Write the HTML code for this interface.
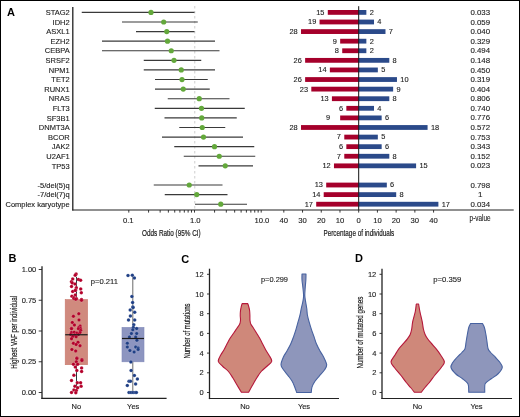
<!DOCTYPE html>
<html><head><meta charset="utf-8"><style>
html,body{margin:0;padding:0;background:#fff;}
svg{display:block;will-change:transform;}
text{font-family:"Liberation Sans", sans-serif;}
.c{stroke:#222;stroke-width:0.2;}
.n{stroke:#222;stroke-width:0.12;}
</style></head><body>
<svg width="520" height="417" viewBox="0 0 520 417">
<rect x="0" y="0" width="520" height="417" fill="#fff"/>
<text x="7" y="16.4" font-size="11" font-weight="bold" fill="#000">A</text>
<text class="n" x="69.7" y="15.10" font-size="7.5" text-anchor="end" fill="#222">STAG2</text>
<text class="n" x="69.7" y="24.69" font-size="7.5" text-anchor="end" fill="#222">IDH2</text>
<text class="n" x="69.7" y="34.28" font-size="7.5" text-anchor="end" fill="#222">ASXL1</text>
<text class="n" x="69.7" y="43.87" font-size="7.5" text-anchor="end" fill="#222">EZH2</text>
<text class="n" x="69.7" y="53.46" font-size="7.5" text-anchor="end" fill="#222">CEBPA</text>
<text class="n" x="69.7" y="63.05" font-size="7.5" text-anchor="end" fill="#222">SRSF2</text>
<text class="n" x="69.7" y="72.64" font-size="7.5" text-anchor="end" fill="#222">NPM1</text>
<text class="n" x="69.7" y="82.23" font-size="7.5" text-anchor="end" fill="#222">TET2</text>
<text class="n" x="69.7" y="91.82" font-size="7.5" text-anchor="end" fill="#222">RUNX1</text>
<text class="n" x="69.7" y="101.41" font-size="7.5" text-anchor="end" fill="#222">NRAS</text>
<text class="n" x="69.7" y="111.00" font-size="7.5" text-anchor="end" fill="#222">FLT3</text>
<text class="n" x="69.7" y="120.59" font-size="7.5" text-anchor="end" fill="#222">SF3B1</text>
<text class="n" x="69.7" y="130.18" font-size="7.5" text-anchor="end" fill="#222">DNMT3A</text>
<text class="n" x="69.7" y="139.77" font-size="7.5" text-anchor="end" fill="#222">BCOR</text>
<text class="n" x="69.7" y="149.36" font-size="7.5" text-anchor="end" fill="#222">JAK2</text>
<text class="n" x="69.7" y="158.95" font-size="7.5" text-anchor="end" fill="#222">U2AF1</text>
<text class="n" x="69.7" y="168.54" font-size="7.5" text-anchor="end" fill="#222">TP53</text>
<text class="n" x="69.7" y="187.72" font-size="7.5" text-anchor="end" fill="#222">-5/del(5)q</text>
<text class="n" x="69.7" y="197.31" font-size="7.5" text-anchor="end" fill="#222">-7/del(7)q</text>
<text class="n" x="69.7" y="206.90" font-size="7.5" text-anchor="end" fill="#222">Complex karyotype</text>
<line x1="194.75" y1="6" x2="194.75" y2="209.5" stroke="#c8c8c8" stroke-width="0.9" stroke-dasharray="2.5 2.5"/>
<line x1="81.75" y1="12.40" x2="194.5" y2="12.40" stroke="#3a3a3a" stroke-width="1.15"/>
<line x1="122" y1="21.99" x2="197.75" y2="21.99" stroke="#3a3a3a" stroke-width="1.15"/>
<line x1="136" y1="31.58" x2="194.5" y2="31.58" stroke="#3a3a3a" stroke-width="1.15"/>
<line x1="102" y1="41.17" x2="215" y2="41.17" stroke="#3a3a3a" stroke-width="1.15"/>
<line x1="102" y1="50.76" x2="219.5" y2="50.76" stroke="#3a3a3a" stroke-width="1.15"/>
<line x1="143.75" y1="60.35" x2="201.25" y2="60.35" stroke="#3a3a3a" stroke-width="1.15"/>
<line x1="143.75" y1="69.94" x2="215" y2="69.94" stroke="#3a3a3a" stroke-width="1.15"/>
<line x1="155" y1="79.53" x2="207.75" y2="79.53" stroke="#3a3a3a" stroke-width="1.15"/>
<line x1="155" y1="89.12" x2="209.75" y2="89.12" stroke="#3a3a3a" stroke-width="1.15"/>
<line x1="167.75" y1="98.71" x2="229.5" y2="98.71" stroke="#3a3a3a" stroke-width="1.15"/>
<line x1="154.75" y1="108.30" x2="244.75" y2="108.30" stroke="#3a3a3a" stroke-width="1.15"/>
<line x1="164.5" y1="117.89" x2="236.75" y2="117.89" stroke="#3a3a3a" stroke-width="1.15"/>
<line x1="179.25" y1="127.48" x2="225.25" y2="127.48" stroke="#3a3a3a" stroke-width="1.15"/>
<line x1="162" y1="137.07" x2="243" y2="137.07" stroke="#3a3a3a" stroke-width="1.15"/>
<line x1="174.25" y1="146.66" x2="254.25" y2="146.66" stroke="#3a3a3a" stroke-width="1.15"/>
<line x1="183.75" y1="156.25" x2="255.25" y2="156.25" stroke="#3a3a3a" stroke-width="1.15"/>
<line x1="198.5" y1="165.84" x2="253" y2="165.84" stroke="#3a3a3a" stroke-width="1.15"/>
<line x1="153.75" y1="185.02" x2="222.5" y2="185.02" stroke="#3a3a3a" stroke-width="1.15"/>
<line x1="164.75" y1="194.61" x2="227.5" y2="194.61" stroke="#3a3a3a" stroke-width="1.15"/>
<line x1="195" y1="204.20" x2="247" y2="204.20" stroke="#3a3a3a" stroke-width="1.15"/>
<circle cx="151" cy="12.40" r="2.6" fill="#63a83b"/>
<circle cx="163.7" cy="21.99" r="2.6" fill="#63a83b"/>
<circle cx="166.75" cy="31.58" r="2.6" fill="#63a83b"/>
<circle cx="167.5" cy="41.17" r="2.6" fill="#63a83b"/>
<circle cx="171.25" cy="50.76" r="2.6" fill="#63a83b"/>
<circle cx="174" cy="60.35" r="2.6" fill="#63a83b"/>
<circle cx="181.25" cy="69.94" r="2.6" fill="#63a83b"/>
<circle cx="182" cy="79.53" r="2.6" fill="#63a83b"/>
<circle cx="183.25" cy="89.12" r="2.6" fill="#63a83b"/>
<circle cx="199.25" cy="98.71" r="2.6" fill="#63a83b"/>
<circle cx="201.5" cy="108.30" r="2.6" fill="#63a83b"/>
<circle cx="201.75" cy="117.89" r="2.6" fill="#63a83b"/>
<circle cx="202.25" cy="127.48" r="2.6" fill="#63a83b"/>
<circle cx="203.5" cy="137.07" r="2.6" fill="#63a83b"/>
<circle cx="214.5" cy="146.66" r="2.6" fill="#63a83b"/>
<circle cx="219.25" cy="156.25" r="2.6" fill="#63a83b"/>
<circle cx="225.25" cy="165.84" r="2.6" fill="#63a83b"/>
<circle cx="189.25" cy="185.02" r="2.6" fill="#63a83b"/>
<circle cx="196.75" cy="194.61" r="2.6" fill="#63a83b"/>
<circle cx="220.75" cy="204.20" r="2.6" fill="#63a83b"/>
<rect x="327.79" y="10.00" width="30.91" height="4.8" fill="#a5002b"/>
<rect x="358.70" y="10.00" width="7.65" height="4.8" fill="#2b4a8a"/>
<text class="n" x="324.49" y="14.80" font-size="7.4" text-anchor="end" fill="#222">15</text>
<text class="n" x="369.65" y="14.80" font-size="7.4" fill="#222">2</text>
<text class="n" x="480.3" y="15.00" font-size="8" text-anchor="middle" fill="#222" textLength="19.7" lengthAdjust="spacingAndGlyphs">0.033</text>
<rect x="319.55" y="19.59" width="39.15" height="4.8" fill="#a5002b"/>
<rect x="358.70" y="19.59" width="15.31" height="4.8" fill="#2b4a8a"/>
<text class="n" x="316.25" y="24.39" font-size="7.4" text-anchor="end" fill="#222">19</text>
<text class="n" x="377.31" y="24.39" font-size="7.4" fill="#222">4</text>
<text class="n" x="480.3" y="24.59" font-size="8" text-anchor="middle" fill="#222" textLength="19.7" lengthAdjust="spacingAndGlyphs">0.059</text>
<rect x="301.01" y="29.18" width="57.69" height="4.8" fill="#a5002b"/>
<rect x="358.70" y="29.18" width="26.79" height="4.8" fill="#2b4a8a"/>
<text class="n" x="297.71" y="33.98" font-size="7.4" text-anchor="end" fill="#222">28</text>
<text class="n" x="388.79" y="33.98" font-size="7.4" fill="#222">7</text>
<text class="n" x="480.3" y="34.18" font-size="8" text-anchor="middle" fill="#222" textLength="19.7" lengthAdjust="spacingAndGlyphs">0.040</text>
<rect x="340.16" y="38.77" width="18.54" height="4.8" fill="#a5002b"/>
<rect x="358.70" y="38.77" width="7.65" height="4.8" fill="#2b4a8a"/>
<text class="n" x="336.86" y="43.57" font-size="7.4" text-anchor="end" fill="#222">9</text>
<text class="n" x="369.65" y="43.57" font-size="7.4" fill="#222">2</text>
<text class="n" x="480.3" y="43.77" font-size="8" text-anchor="middle" fill="#222" textLength="19.7" lengthAdjust="spacingAndGlyphs">0.329</text>
<rect x="342.22" y="48.36" width="16.48" height="4.8" fill="#a5002b"/>
<rect x="358.70" y="48.36" width="7.65" height="4.8" fill="#2b4a8a"/>
<text class="n" x="338.92" y="53.16" font-size="7.4" text-anchor="end" fill="#222">8</text>
<text class="n" x="369.65" y="53.16" font-size="7.4" fill="#222">2</text>
<text class="n" x="480.3" y="53.36" font-size="8" text-anchor="middle" fill="#222" textLength="19.7" lengthAdjust="spacingAndGlyphs">0.494</text>
<rect x="305.13" y="57.95" width="53.57" height="4.8" fill="#a5002b"/>
<rect x="358.70" y="57.95" width="30.61" height="4.8" fill="#2b4a8a"/>
<text class="n" x="301.83" y="62.75" font-size="7.4" text-anchor="end" fill="#222">26</text>
<text class="n" x="392.61" y="62.75" font-size="7.4" fill="#222">8</text>
<text class="n" x="480.3" y="62.95" font-size="8" text-anchor="middle" fill="#222" textLength="19.7" lengthAdjust="spacingAndGlyphs">0.148</text>
<rect x="329.85" y="67.54" width="28.85" height="4.8" fill="#a5002b"/>
<rect x="358.70" y="67.54" width="19.13" height="4.8" fill="#2b4a8a"/>
<text class="n" x="326.55" y="72.34" font-size="7.4" text-anchor="end" fill="#222">14</text>
<text class="n" x="381.13" y="72.34" font-size="7.4" fill="#222">5</text>
<text class="n" x="480.3" y="72.54" font-size="8" text-anchor="middle" fill="#222" textLength="19.7" lengthAdjust="spacingAndGlyphs">0.450</text>
<rect x="305.13" y="77.13" width="53.57" height="4.8" fill="#a5002b"/>
<rect x="358.70" y="77.13" width="38.27" height="4.8" fill="#2b4a8a"/>
<text class="n" x="301.83" y="81.93" font-size="7.4" text-anchor="end" fill="#222">26</text>
<text class="n" x="400.27" y="81.93" font-size="7.4" fill="#222">10</text>
<text class="n" x="480.3" y="82.13" font-size="8" text-anchor="middle" fill="#222" textLength="19.7" lengthAdjust="spacingAndGlyphs">0.319</text>
<rect x="311.31" y="86.72" width="47.39" height="4.8" fill="#a5002b"/>
<rect x="358.70" y="86.72" width="34.44" height="4.8" fill="#2b4a8a"/>
<text class="n" x="308.01" y="91.52" font-size="7.4" text-anchor="end" fill="#222">23</text>
<text class="n" x="396.44" y="91.52" font-size="7.4" fill="#222">9</text>
<text class="n" x="480.3" y="91.72" font-size="8" text-anchor="middle" fill="#222" textLength="19.7" lengthAdjust="spacingAndGlyphs">0.404</text>
<rect x="331.91" y="96.31" width="26.79" height="4.8" fill="#a5002b"/>
<rect x="358.70" y="96.31" width="30.61" height="4.8" fill="#2b4a8a"/>
<text class="n" x="328.61" y="101.11" font-size="7.4" text-anchor="end" fill="#222">13</text>
<text class="n" x="392.61" y="101.11" font-size="7.4" fill="#222">8</text>
<text class="n" x="480.3" y="101.31" font-size="8" text-anchor="middle" fill="#222" textLength="19.7" lengthAdjust="spacingAndGlyphs">0.806</text>
<rect x="346.34" y="105.90" width="12.36" height="4.8" fill="#a5002b"/>
<rect x="358.70" y="105.90" width="15.31" height="4.8" fill="#2b4a8a"/>
<text class="n" x="343.04" y="110.70" font-size="7.4" text-anchor="end" fill="#222">6</text>
<text class="n" x="377.31" y="110.70" font-size="7.4" fill="#222">4</text>
<text class="n" x="480.3" y="110.90" font-size="8" text-anchor="middle" fill="#222" textLength="19.7" lengthAdjust="spacingAndGlyphs">0.740</text>
<rect x="340.16" y="115.49" width="18.54" height="4.8" fill="#a5002b"/>
<rect x="358.70" y="115.49" width="22.96" height="4.8" fill="#2b4a8a"/>
<text class="n" x="330.20" y="120.29" font-size="7.4" text-anchor="end" fill="#222">9</text>
<text class="n" x="384.96" y="120.29" font-size="7.4" fill="#222">6</text>
<text class="n" x="480.3" y="120.49" font-size="8" text-anchor="middle" fill="#222" textLength="19.7" lengthAdjust="spacingAndGlyphs">0.776</text>
<rect x="301.01" y="125.08" width="57.69" height="4.8" fill="#a5002b"/>
<rect x="358.70" y="125.08" width="68.88" height="4.8" fill="#2b4a8a"/>
<text class="n" x="297.71" y="129.88" font-size="7.4" text-anchor="end" fill="#222">28</text>
<text class="n" x="430.88" y="129.88" font-size="7.4" fill="#222">18</text>
<text class="n" x="480.3" y="130.08" font-size="8" text-anchor="middle" fill="#222" textLength="19.7" lengthAdjust="spacingAndGlyphs">0.572</text>
<rect x="344.28" y="134.67" width="14.42" height="4.8" fill="#a5002b"/>
<rect x="358.70" y="134.67" width="19.13" height="4.8" fill="#2b4a8a"/>
<text class="n" x="340.98" y="139.47" font-size="7.4" text-anchor="end" fill="#222">7</text>
<text class="n" x="381.13" y="139.47" font-size="7.4" fill="#222">5</text>
<text class="n" x="480.3" y="139.67" font-size="8" text-anchor="middle" fill="#222" textLength="19.7" lengthAdjust="spacingAndGlyphs">0.753</text>
<rect x="346.34" y="144.26" width="12.36" height="4.8" fill="#a5002b"/>
<rect x="358.70" y="144.26" width="22.96" height="4.8" fill="#2b4a8a"/>
<text class="n" x="343.04" y="149.06" font-size="7.4" text-anchor="end" fill="#222">6</text>
<text class="n" x="384.96" y="149.06" font-size="7.4" fill="#222">6</text>
<text class="n" x="480.3" y="149.26" font-size="8" text-anchor="middle" fill="#222" textLength="19.7" lengthAdjust="spacingAndGlyphs">0.343</text>
<rect x="344.28" y="153.85" width="14.42" height="4.8" fill="#a5002b"/>
<rect x="358.70" y="153.85" width="30.61" height="4.8" fill="#2b4a8a"/>
<text class="n" x="340.98" y="158.65" font-size="7.4" text-anchor="end" fill="#222">7</text>
<text class="n" x="392.61" y="158.65" font-size="7.4" fill="#222">8</text>
<text class="n" x="480.3" y="158.85" font-size="8" text-anchor="middle" fill="#222" textLength="19.7" lengthAdjust="spacingAndGlyphs">0.152</text>
<rect x="333.97" y="163.44" width="24.73" height="4.8" fill="#a5002b"/>
<rect x="358.70" y="163.44" width="57.40" height="4.8" fill="#2b4a8a"/>
<text class="n" x="330.67" y="168.24" font-size="7.4" text-anchor="end" fill="#222">12</text>
<text class="n" x="419.40" y="168.24" font-size="7.4" fill="#222">15</text>
<text class="n" x="480.3" y="168.44" font-size="8" text-anchor="middle" fill="#222" textLength="19.7" lengthAdjust="spacingAndGlyphs">0.023</text>
<rect x="326.20" y="182.62" width="32.50" height="4.8" fill="#a5002b"/>
<rect x="358.70" y="182.62" width="28.12" height="4.8" fill="#2b4a8a"/>
<text class="n" x="322.90" y="187.42" font-size="7.4" text-anchor="end" fill="#222">13</text>
<text class="n" x="390.12" y="187.42" font-size="7.4" fill="#222">6</text>
<text class="n" x="480.3" y="187.62" font-size="8" text-anchor="middle" fill="#222" textLength="19.7" lengthAdjust="spacingAndGlyphs">0.798</text>
<rect x="323.70" y="192.21" width="35.00" height="4.8" fill="#a5002b"/>
<rect x="358.70" y="192.21" width="37.50" height="4.8" fill="#2b4a8a"/>
<text class="n" x="320.40" y="197.01" font-size="7.4" text-anchor="end" fill="#222">14</text>
<text class="n" x="399.50" y="197.01" font-size="7.4" fill="#222">8</text>
<text class="n" x="480.3" y="197.21" font-size="8" text-anchor="middle" fill="#222">1</text>
<rect x="316.20" y="201.80" width="42.50" height="4.8" fill="#a5002b"/>
<rect x="358.70" y="201.80" width="79.69" height="4.8" fill="#2b4a8a"/>
<text class="n" x="312.90" y="206.60" font-size="7.4" text-anchor="end" fill="#222">17</text>
<text class="n" x="441.69" y="206.60" font-size="7.4" fill="#222">17</text>
<text class="n" x="480.3" y="206.80" font-size="8" text-anchor="middle" fill="#222" textLength="19.7" lengthAdjust="spacingAndGlyphs">0.034</text>
<line x1="358.7" y1="6.2" x2="358.7" y2="210" stroke="#111" stroke-width="1"/>
<line x1="72.8" y1="7" x2="72.8" y2="210.6" stroke="#222" stroke-width="1.3"/>
<line x1="72.2" y1="210" x2="513.7" y2="210" stroke="#222" stroke-width="1.2"/>
<line x1="128.80" y1="210" x2="128.80" y2="212.6" stroke="#222" stroke-width="0.9"/>
<line x1="148.58" y1="210" x2="148.58" y2="212.6" stroke="#222" stroke-width="0.9"/>
<line x1="160.15" y1="210" x2="160.15" y2="212.6" stroke="#222" stroke-width="0.9"/>
<line x1="168.36" y1="210" x2="168.36" y2="212.6" stroke="#222" stroke-width="0.9"/>
<line x1="174.72" y1="210" x2="174.72" y2="212.6" stroke="#222" stroke-width="0.9"/>
<line x1="179.92" y1="210" x2="179.92" y2="212.6" stroke="#222" stroke-width="0.9"/>
<line x1="184.32" y1="210" x2="184.32" y2="212.6" stroke="#222" stroke-width="0.9"/>
<line x1="188.13" y1="210" x2="188.13" y2="212.6" stroke="#222" stroke-width="0.9"/>
<line x1="191.49" y1="210" x2="191.49" y2="212.6" stroke="#222" stroke-width="0.9"/>
<line x1="194.50" y1="210" x2="194.50" y2="212.6" stroke="#222" stroke-width="0.9"/>
<line x1="214.58" y1="210" x2="214.58" y2="212.6" stroke="#222" stroke-width="0.9"/>
<line x1="226.32" y1="210" x2="226.32" y2="212.6" stroke="#222" stroke-width="0.9"/>
<line x1="234.66" y1="210" x2="234.66" y2="212.6" stroke="#222" stroke-width="0.9"/>
<line x1="241.12" y1="210" x2="241.12" y2="212.6" stroke="#222" stroke-width="0.9"/>
<line x1="246.40" y1="210" x2="246.40" y2="212.6" stroke="#222" stroke-width="0.9"/>
<line x1="250.87" y1="210" x2="250.87" y2="212.6" stroke="#222" stroke-width="0.9"/>
<line x1="254.74" y1="210" x2="254.74" y2="212.6" stroke="#222" stroke-width="0.9"/>
<line x1="258.15" y1="210" x2="258.15" y2="212.6" stroke="#222" stroke-width="0.9"/>
<line x1="261.20" y1="210" x2="261.20" y2="212.6" stroke="#222" stroke-width="0.9"/>
<text class="n" x="128.3" y="222.5" font-size="7.7" text-anchor="middle" fill="#222">0.1</text>
<text class="n" x="195.3" y="222.5" font-size="7.7" text-anchor="middle" fill="#222">1.0</text>
<text class="n" x="261.9" y="222.5" font-size="7.7" text-anchor="middle" fill="#222">10.0</text>
<line x1="283.82" y1="210" x2="283.82" y2="212.6" stroke="#222" stroke-width="0.9"/>
<text class="n" x="283.82" y="222.5" font-size="7.7" text-anchor="middle" fill="#222">40</text>
<line x1="302.54" y1="210" x2="302.54" y2="212.6" stroke="#222" stroke-width="0.9"/>
<text class="n" x="302.54" y="222.5" font-size="7.7" text-anchor="middle" fill="#222">30</text>
<line x1="321.26" y1="210" x2="321.26" y2="212.6" stroke="#222" stroke-width="0.9"/>
<text class="n" x="321.26" y="222.5" font-size="7.7" text-anchor="middle" fill="#222">20</text>
<line x1="339.98" y1="210" x2="339.98" y2="212.6" stroke="#222" stroke-width="0.9"/>
<text class="n" x="339.98" y="222.5" font-size="7.7" text-anchor="middle" fill="#222">10</text>
<line x1="358.70" y1="210" x2="358.70" y2="212.6" stroke="#222" stroke-width="0.9"/>
<text class="n" x="358.70" y="222.5" font-size="7.7" text-anchor="middle" fill="#222">0</text>
<line x1="377.42" y1="210" x2="377.42" y2="212.6" stroke="#222" stroke-width="0.9"/>
<text class="n" x="377.42" y="222.5" font-size="7.7" text-anchor="middle" fill="#222">10</text>
<line x1="396.14" y1="210" x2="396.14" y2="212.6" stroke="#222" stroke-width="0.9"/>
<text class="n" x="396.14" y="222.5" font-size="7.7" text-anchor="middle" fill="#222">20</text>
<line x1="414.86" y1="210" x2="414.86" y2="212.6" stroke="#222" stroke-width="0.9"/>
<text class="n" x="414.86" y="222.5" font-size="7.7" text-anchor="middle" fill="#222">30</text>
<line x1="433.58" y1="210" x2="433.58" y2="212.6" stroke="#222" stroke-width="0.9"/>
<text class="n" x="433.58" y="222.5" font-size="7.7" text-anchor="middle" fill="#222">40</text>
<text class="c" x="142" y="235.5" font-size="8.4" textLength="58.7" lengthAdjust="spacingAndGlyphs" fill="#222">Odds Ratio (95% CI)</text>
<text class="c" x="323.5" y="235.5" font-size="8.4" textLength="70.8" lengthAdjust="spacingAndGlyphs" fill="#222">Percentage of individuals</text>
<text class="n" x="469.6" y="221.3" font-size="8.4" textLength="21" lengthAdjust="spacingAndGlyphs" fill="#222">p-value</text>
<text x="8.4" y="262" font-size="11" font-weight="bold" fill="#000">B</text>
<line x1="42" y1="266.2" x2="42" y2="399.0" stroke="#222" stroke-width="1.3"/>
<line x1="38.7" y1="392.50" x2="42" y2="392.50" stroke="#222" stroke-width="0.9"/>
<text class="n" x="36.3" y="395.15" font-size="7.5" text-anchor="end" fill="#222">0.00</text>
<line x1="38.7" y1="361.75" x2="42" y2="361.75" stroke="#222" stroke-width="0.9"/>
<text class="n" x="36.3" y="364.40" font-size="7.5" text-anchor="end" fill="#222">0.25</text>
<line x1="38.7" y1="331.00" x2="42" y2="331.00" stroke="#222" stroke-width="0.9"/>
<text class="n" x="36.3" y="333.65" font-size="7.5" text-anchor="end" fill="#222">0.50</text>
<line x1="38.7" y1="300.25" x2="42" y2="300.25" stroke="#222" stroke-width="0.9"/>
<text class="n" x="36.3" y="302.90" font-size="7.5" text-anchor="end" fill="#222">0.75</text>
<line x1="38.7" y1="269.50" x2="42" y2="269.50" stroke="#222" stroke-width="0.9"/>
<text class="n" x="36.3" y="272.15" font-size="7.5" text-anchor="end" fill="#222">1.00</text>
<line x1="41.4" y1="398.4" x2="166.6" y2="398.4" stroke="#222" stroke-width="1.2"/>
<text class="c" x="0" y="0" transform="translate(17.4,332.3) rotate(-90)" font-size="9.2" text-anchor="middle" textLength="73" lengthAdjust="spacingAndGlyphs" fill="#222">Highest VAF per individual</text>
<line x1="76.5" y1="277" x2="76.5" y2="392.5" stroke="#2a3a3a" stroke-width="1"/>
<line x1="132.8" y1="276" x2="132.8" y2="392.3" stroke="#6a6a6a" stroke-width="1"/>
<rect x="65.2" y="299.6" width="22.4" height="65.1" fill="#d08a7e" stroke="#c9786c" stroke-width="0.6"/>
<rect x="122" y="327.4" width="22" height="34.4" fill="#8d95c0" stroke="#8089b8" stroke-width="0.6"/>
<circle cx="76.1" cy="274.1" r="1.75" fill="#b3002a" stroke="#fff" stroke-opacity="0.3" stroke-width="0.5"/>
<circle cx="75.2" cy="275.3" r="1.75" fill="#b3002a" stroke="#fff" stroke-opacity="0.3" stroke-width="0.5"/>
<circle cx="72.7" cy="279.1" r="1.75" fill="#b3002a" stroke="#fff" stroke-opacity="0.3" stroke-width="0.5"/>
<circle cx="78.4" cy="279.4" r="1.75" fill="#b3002a" stroke="#fff" stroke-opacity="0.3" stroke-width="0.5"/>
<circle cx="80.6" cy="280.3" r="1.75" fill="#b3002a" stroke="#fff" stroke-opacity="0.3" stroke-width="0.5"/>
<circle cx="71.4" cy="281.7" r="1.75" fill="#b3002a" stroke="#fff" stroke-opacity="0.3" stroke-width="0.5"/>
<circle cx="72.3" cy="283" r="1.75" fill="#b3002a" stroke="#fff" stroke-opacity="0.3" stroke-width="0.5"/>
<circle cx="75" cy="284" r="1.75" fill="#b3002a" stroke="#fff" stroke-opacity="0.3" stroke-width="0.5"/>
<circle cx="71.5" cy="286.4" r="1.75" fill="#b3002a" stroke="#fff" stroke-opacity="0.3" stroke-width="0.5"/>
<circle cx="76.3" cy="287.8" r="1.75" fill="#b3002a" stroke="#fff" stroke-opacity="0.3" stroke-width="0.5"/>
<circle cx="80.7" cy="288.9" r="1.75" fill="#b3002a" stroke="#fff" stroke-opacity="0.3" stroke-width="0.5"/>
<circle cx="75.7" cy="289.9" r="1.75" fill="#b3002a" stroke="#fff" stroke-opacity="0.3" stroke-width="0.5"/>
<circle cx="72.7" cy="291.4" r="1.75" fill="#b3002a" stroke="#fff" stroke-opacity="0.3" stroke-width="0.5"/>
<circle cx="81.3" cy="292.7" r="1.75" fill="#b3002a" stroke="#fff" stroke-opacity="0.3" stroke-width="0.5"/>
<circle cx="75.2" cy="290.6" r="1.75" fill="#b3002a" stroke="#fff" stroke-opacity="0.3" stroke-width="0.5"/>
<circle cx="75.3" cy="295" r="1.75" fill="#b3002a" stroke="#fff" stroke-opacity="0.3" stroke-width="0.5"/>
<circle cx="71.9" cy="296.2" r="1.75" fill="#b3002a" stroke="#fff" stroke-opacity="0.3" stroke-width="0.5"/>
<circle cx="73.8" cy="297.5" r="1.75" fill="#b3002a" stroke="#fff" stroke-opacity="0.3" stroke-width="0.5"/>
<circle cx="76.5" cy="298.7" r="1.75" fill="#b3002a" stroke="#fff" stroke-opacity="0.3" stroke-width="0.5"/>
<circle cx="81.5" cy="299.5" r="1.75" fill="#b3002a" stroke="#fff" stroke-opacity="0.3" stroke-width="0.5"/>
<circle cx="73.8" cy="298.4" r="1.75" fill="#b3002a" stroke="#fff" stroke-opacity="0.3" stroke-width="0.5"/>
<circle cx="75.7" cy="299.2" r="1.75" fill="#b3002a" stroke="#fff" stroke-opacity="0.3" stroke-width="0.5"/>
<circle cx="81.5" cy="300.3" r="1.75" fill="#b3002a" stroke="#fff" stroke-opacity="0.3" stroke-width="0.5"/>
<circle cx="78.8" cy="313.7" r="1.75" fill="#b3002a" stroke="#fff" stroke-opacity="0.3" stroke-width="0.5"/>
<circle cx="73.4" cy="316.3" r="1.75" fill="#b3002a" stroke="#fff" stroke-opacity="0.3" stroke-width="0.5"/>
<circle cx="79" cy="319.9" r="1.75" fill="#b3002a" stroke="#fff" stroke-opacity="0.3" stroke-width="0.5"/>
<circle cx="72.3" cy="322.4" r="1.75" fill="#b3002a" stroke="#fff" stroke-opacity="0.3" stroke-width="0.5"/>
<circle cx="74.4" cy="325" r="1.75" fill="#b3002a" stroke="#fff" stroke-opacity="0.3" stroke-width="0.5"/>
<circle cx="80.1" cy="326" r="1.75" fill="#b3002a" stroke="#fff" stroke-opacity="0.3" stroke-width="0.5"/>
<circle cx="78.8" cy="327.5" r="1.75" fill="#b3002a" stroke="#fff" stroke-opacity="0.3" stroke-width="0.5"/>
<circle cx="71.5" cy="328.3" r="1.75" fill="#b3002a" stroke="#fff" stroke-opacity="0.3" stroke-width="0.5"/>
<circle cx="80.3" cy="328.3" r="1.75" fill="#b3002a" stroke="#fff" stroke-opacity="0.3" stroke-width="0.5"/>
<circle cx="71.5" cy="328.8" r="1.75" fill="#b3002a" stroke="#fff" stroke-opacity="0.3" stroke-width="0.5"/>
<circle cx="78.4" cy="328.8" r="1.75" fill="#b3002a" stroke="#fff" stroke-opacity="0.3" stroke-width="0.5"/>
<circle cx="80.7" cy="330.3" r="1.75" fill="#b3002a" stroke="#fff" stroke-opacity="0.3" stroke-width="0.5"/>
<circle cx="71.5" cy="332.6" r="1.75" fill="#b3002a" stroke="#fff" stroke-opacity="0.3" stroke-width="0.5"/>
<circle cx="74.2" cy="332.2" r="1.75" fill="#b3002a" stroke="#fff" stroke-opacity="0.3" stroke-width="0.5"/>
<circle cx="76.9" cy="333" r="1.75" fill="#b3002a" stroke="#fff" stroke-opacity="0.3" stroke-width="0.5"/>
<circle cx="80" cy="332.6" r="1.75" fill="#b3002a" stroke="#fff" stroke-opacity="0.3" stroke-width="0.5"/>
<circle cx="70.7" cy="334.5" r="1.75" fill="#b3002a" stroke="#fff" stroke-opacity="0.3" stroke-width="0.5"/>
<circle cx="74.6" cy="334.9" r="1.75" fill="#b3002a" stroke="#fff" stroke-opacity="0.3" stroke-width="0.5"/>
<circle cx="78.4" cy="334.5" r="1.75" fill="#b3002a" stroke="#fff" stroke-opacity="0.3" stroke-width="0.5"/>
<circle cx="72.7" cy="336.4" r="1.75" fill="#b3002a" stroke="#fff" stroke-opacity="0.3" stroke-width="0.5"/>
<circle cx="76.1" cy="336.8" r="1.75" fill="#b3002a" stroke="#fff" stroke-opacity="0.3" stroke-width="0.5"/>
<circle cx="71.5" cy="338.7" r="1.75" fill="#b3002a" stroke="#fff" stroke-opacity="0.3" stroke-width="0.5"/>
<circle cx="73.4" cy="343.3" r="1.75" fill="#b3002a" stroke="#fff" stroke-opacity="0.3" stroke-width="0.5"/>
<circle cx="78" cy="342.2" r="1.75" fill="#b3002a" stroke="#fff" stroke-opacity="0.3" stroke-width="0.5"/>
<circle cx="76.1" cy="344.5" r="1.75" fill="#b3002a" stroke="#fff" stroke-opacity="0.3" stroke-width="0.5"/>
<circle cx="80" cy="345.7" r="1.75" fill="#b3002a" stroke="#fff" stroke-opacity="0.3" stroke-width="0.5"/>
<circle cx="71.9" cy="349.5" r="1.75" fill="#b3002a" stroke="#fff" stroke-opacity="0.3" stroke-width="0.5"/>
<circle cx="75.7" cy="350.9" r="1.75" fill="#b3002a" stroke="#fff" stroke-opacity="0.3" stroke-width="0.5"/>
<circle cx="76.9" cy="357.9" r="1.75" fill="#b3002a" stroke="#fff" stroke-opacity="0.3" stroke-width="0.5"/>
<circle cx="81.9" cy="359.5" r="1.75" fill="#b3002a" stroke="#fff" stroke-opacity="0.3" stroke-width="0.5"/>
<circle cx="76.8" cy="358.5" r="1.75" fill="#b3002a" stroke="#fff" stroke-opacity="0.3" stroke-width="0.5"/>
<circle cx="81.9" cy="360.4" r="1.75" fill="#b3002a" stroke="#fff" stroke-opacity="0.3" stroke-width="0.5"/>
<circle cx="76.3" cy="361.8" r="1.75" fill="#b3002a" stroke="#fff" stroke-opacity="0.3" stroke-width="0.5"/>
<circle cx="73.4" cy="364.2" r="1.75" fill="#b3002a" stroke="#fff" stroke-opacity="0.3" stroke-width="0.5"/>
<circle cx="77.7" cy="364.2" r="1.75" fill="#b3002a" stroke="#fff" stroke-opacity="0.3" stroke-width="0.5"/>
<circle cx="75.3" cy="367.1" r="1.75" fill="#b3002a" stroke="#fff" stroke-opacity="0.3" stroke-width="0.5"/>
<circle cx="81.6" cy="368.1" r="1.75" fill="#b3002a" stroke="#fff" stroke-opacity="0.3" stroke-width="0.5"/>
<circle cx="76.8" cy="370.5" r="1.75" fill="#b3002a" stroke="#fff" stroke-opacity="0.3" stroke-width="0.5"/>
<circle cx="81.6" cy="371.4" r="1.75" fill="#b3002a" stroke="#fff" stroke-opacity="0.3" stroke-width="0.5"/>
<circle cx="73.9" cy="375.3" r="1.75" fill="#b3002a" stroke="#fff" stroke-opacity="0.3" stroke-width="0.5"/>
<circle cx="71.5" cy="380.5" r="1.75" fill="#b3002a" stroke="#fff" stroke-opacity="0.3" stroke-width="0.5"/>
<circle cx="77.3" cy="382.7" r="1.75" fill="#b3002a" stroke="#fff" stroke-opacity="0.3" stroke-width="0.5"/>
<circle cx="80.6" cy="382.7" r="1.75" fill="#b3002a" stroke="#fff" stroke-opacity="0.3" stroke-width="0.5"/>
<circle cx="74.9" cy="386.3" r="1.75" fill="#b3002a" stroke="#fff" stroke-opacity="0.3" stroke-width="0.5"/>
<circle cx="81.1" cy="386.3" r="1.75" fill="#b3002a" stroke="#fff" stroke-opacity="0.3" stroke-width="0.5"/>
<circle cx="77.7" cy="387.7" r="1.75" fill="#b3002a" stroke="#fff" stroke-opacity="0.3" stroke-width="0.5"/>
<circle cx="73.9" cy="390.1" r="1.75" fill="#b3002a" stroke="#fff" stroke-opacity="0.3" stroke-width="0.5"/>
<circle cx="76.3" cy="390.6" r="1.75" fill="#b3002a" stroke="#fff" stroke-opacity="0.3" stroke-width="0.5"/>
<circle cx="71.5" cy="392.5" r="1.75" fill="#b3002a" stroke="#fff" stroke-opacity="0.3" stroke-width="0.5"/>
<circle cx="75.8" cy="392.7" r="1.75" fill="#b3002a" stroke="#fff" stroke-opacity="0.3" stroke-width="0.5"/>
<circle cx="128" cy="275.5" r="1.75" fill="#1f3f85" stroke="#fff" stroke-opacity="0.3" stroke-width="0.5"/>
<circle cx="132.3" cy="275.2" r="1.75" fill="#1f3f85" stroke="#fff" stroke-opacity="0.3" stroke-width="0.5"/>
<circle cx="134.4" cy="277.9" r="1.75" fill="#1f3f85" stroke="#fff" stroke-opacity="0.3" stroke-width="0.5"/>
<circle cx="131.9" cy="296.6" r="1.75" fill="#1f3f85" stroke="#fff" stroke-opacity="0.3" stroke-width="0.5"/>
<circle cx="132.6" cy="302.6" r="1.75" fill="#1f3f85" stroke="#fff" stroke-opacity="0.3" stroke-width="0.5"/>
<circle cx="132.8" cy="306.9" r="1.75" fill="#1f3f85" stroke="#fff" stroke-opacity="0.3" stroke-width="0.5"/>
<circle cx="133.1" cy="307.5" r="1.75" fill="#1f3f85" stroke="#fff" stroke-opacity="0.3" stroke-width="0.5"/>
<circle cx="130.2" cy="309.9" r="1.75" fill="#1f3f85" stroke="#fff" stroke-opacity="0.3" stroke-width="0.5"/>
<circle cx="134.7" cy="312.3" r="1.75" fill="#1f3f85" stroke="#fff" stroke-opacity="0.3" stroke-width="0.5"/>
<circle cx="130.4" cy="316.1" r="1.75" fill="#1f3f85" stroke="#fff" stroke-opacity="0.3" stroke-width="0.5"/>
<circle cx="128.5" cy="320" r="1.75" fill="#1f3f85" stroke="#fff" stroke-opacity="0.3" stroke-width="0.5"/>
<circle cx="134.7" cy="320" r="1.75" fill="#1f3f85" stroke="#fff" stroke-opacity="0.3" stroke-width="0.5"/>
<circle cx="133.8" cy="324.8" r="1.75" fill="#1f3f85" stroke="#fff" stroke-opacity="0.3" stroke-width="0.5"/>
<circle cx="133.3" cy="327.4" r="1.75" fill="#1f3f85" stroke="#fff" stroke-opacity="0.3" stroke-width="0.5"/>
<circle cx="136.7" cy="328.6" r="1.75" fill="#1f3f85" stroke="#fff" stroke-opacity="0.3" stroke-width="0.5"/>
<circle cx="132.8" cy="329.8" r="1.75" fill="#1f3f85" stroke="#fff" stroke-opacity="0.3" stroke-width="0.5"/>
<circle cx="131.4" cy="333.6" r="1.75" fill="#1f3f85" stroke="#fff" stroke-opacity="0.3" stroke-width="0.5"/>
<circle cx="136.7" cy="333.6" r="1.75" fill="#1f3f85" stroke="#fff" stroke-opacity="0.3" stroke-width="0.5"/>
<circle cx="129.4" cy="337" r="1.75" fill="#1f3f85" stroke="#fff" stroke-opacity="0.3" stroke-width="0.5"/>
<circle cx="135.7" cy="337" r="1.75" fill="#1f3f85" stroke="#fff" stroke-opacity="0.3" stroke-width="0.5"/>
<circle cx="136.9" cy="340.3" r="1.75" fill="#1f3f85" stroke="#fff" stroke-opacity="0.3" stroke-width="0.5"/>
<circle cx="127.3" cy="343.2" r="1.75" fill="#1f3f85" stroke="#fff" stroke-opacity="0.3" stroke-width="0.5"/>
<circle cx="127.3" cy="347" r="1.75" fill="#1f3f85" stroke="#fff" stroke-opacity="0.3" stroke-width="0.5"/>
<circle cx="135.7" cy="347" r="1.75" fill="#1f3f85" stroke="#fff" stroke-opacity="0.3" stroke-width="0.5"/>
<circle cx="138.1" cy="348" r="1.75" fill="#1f3f85" stroke="#fff" stroke-opacity="0.3" stroke-width="0.5"/>
<circle cx="138.1" cy="349.4" r="1.75" fill="#1f3f85" stroke="#fff" stroke-opacity="0.3" stroke-width="0.5"/>
<circle cx="129.9" cy="350.6" r="1.75" fill="#1f3f85" stroke="#fff" stroke-opacity="0.3" stroke-width="0.5"/>
<circle cx="134.1" cy="352.1" r="1.75" fill="#1f3f85" stroke="#fff" stroke-opacity="0.3" stroke-width="0.5"/>
<circle cx="130.9" cy="361.9" r="1.75" fill="#1f3f85" stroke="#fff" stroke-opacity="0.3" stroke-width="0.5"/>
<circle cx="131.1" cy="370.5" r="1.75" fill="#1f3f85" stroke="#fff" stroke-opacity="0.3" stroke-width="0.5"/>
<circle cx="134.4" cy="375.4" r="1.75" fill="#1f3f85" stroke="#fff" stroke-opacity="0.3" stroke-width="0.5"/>
<circle cx="137.4" cy="379.1" r="1.75" fill="#1f3f85" stroke="#fff" stroke-opacity="0.3" stroke-width="0.5"/>
<circle cx="129" cy="381.3" r="1.75" fill="#1f3f85" stroke="#fff" stroke-opacity="0.3" stroke-width="0.5"/>
<circle cx="130.5" cy="381.3" r="1.75" fill="#1f3f85" stroke="#fff" stroke-opacity="0.3" stroke-width="0.5"/>
<circle cx="135.6" cy="384" r="1.75" fill="#1f3f85" stroke="#fff" stroke-opacity="0.3" stroke-width="0.5"/>
<circle cx="127.3" cy="385.4" r="1.75" fill="#1f3f85" stroke="#fff" stroke-opacity="0.3" stroke-width="0.5"/>
<circle cx="129" cy="392.5" r="1.75" fill="#1f3f85" stroke="#fff" stroke-opacity="0.3" stroke-width="0.5"/>
<circle cx="131.1" cy="392.5" r="1.75" fill="#1f3f85" stroke="#fff" stroke-opacity="0.3" stroke-width="0.5"/>
<circle cx="133.1" cy="392.5" r="1.75" fill="#1f3f85" stroke="#fff" stroke-opacity="0.3" stroke-width="0.5"/>
<circle cx="135.2" cy="392.5" r="1.75" fill="#1f3f85" stroke="#fff" stroke-opacity="0.3" stroke-width="0.5"/>
<circle cx="136.4" cy="392.5" r="1.75" fill="#1f3f85" stroke="#fff" stroke-opacity="0.3" stroke-width="0.5"/>
<line x1="65.2" y1="334.75" x2="87.6" y2="334.75" stroke="#1a1a1a" stroke-width="1.2"/>
<line x1="122" y1="338.5" x2="144" y2="338.5" stroke="#1a1a1a" stroke-width="1.2"/>
<text class="n" x="90.75" y="283.6" font-size="7.5" textLength="27.2" lengthAdjust="spacingAndGlyphs" fill="#222">p=0.211</text>
<text class="n" x="76.3" y="409" font-size="7.5" text-anchor="middle" fill="#222">No</text>
<text class="n" x="133.2" y="409" font-size="7.5" text-anchor="middle" fill="#222">Yes</text>
<text x="181.2" y="262.5" font-size="11" font-weight="bold" fill="#000">C</text>
<line x1="209.5" y1="268.7" x2="209.5" y2="399.1" stroke="#222" stroke-width="1.3"/>
<line x1="207" y1="392.50" x2="209.5" y2="392.50" stroke="#222" stroke-width="0.9"/>
<text class="n" x="203.6" y="395.15" font-size="7.5" text-anchor="end" fill="#222">0</text>
<line x1="207" y1="372.80" x2="209.5" y2="372.80" stroke="#222" stroke-width="0.9"/>
<text class="n" x="203.6" y="375.45" font-size="7.5" text-anchor="end" fill="#222">2</text>
<line x1="207" y1="353.10" x2="209.5" y2="353.10" stroke="#222" stroke-width="0.9"/>
<text class="n" x="203.6" y="355.75" font-size="7.5" text-anchor="end" fill="#222">4</text>
<line x1="207" y1="333.40" x2="209.5" y2="333.40" stroke="#222" stroke-width="0.9"/>
<text class="n" x="203.6" y="336.05" font-size="7.5" text-anchor="end" fill="#222">6</text>
<line x1="207" y1="313.70" x2="209.5" y2="313.70" stroke="#222" stroke-width="0.9"/>
<text class="n" x="203.6" y="316.35" font-size="7.5" text-anchor="end" fill="#222">8</text>
<line x1="207" y1="294.00" x2="209.5" y2="294.00" stroke="#222" stroke-width="0.9"/>
<text class="n" x="203.6" y="296.65" font-size="7.5" text-anchor="end" fill="#222">10</text>
<line x1="207" y1="274.30" x2="209.5" y2="274.30" stroke="#222" stroke-width="0.9"/>
<text class="n" x="203.6" y="276.95" font-size="7.5" text-anchor="end" fill="#222">12</text>
<line x1="208.9" y1="398.5" x2="339" y2="398.5" stroke="#222" stroke-width="1.2"/>
<text class="c" x="0" y="0" transform="translate(190.3,331) rotate(-90)" font-size="9.2" text-anchor="middle" textLength="55" lengthAdjust="spacingAndGlyphs" fill="#222">Number of mutations</text>
<path d="M242.10,303.60 C241.96,304.12 241.52,305.60 241.25,306.75 C240.98,307.90 240.67,309.04 240.50,310.50 C240.33,311.96 240.25,313.83 240.25,315.50 C240.25,317.17 240.61,319.04 240.50,320.50 C240.39,321.96 240.17,323.00 239.60,324.25 C239.03,325.50 238.07,326.54 237.10,328.00 C236.12,329.46 234.89,331.33 233.75,333.00 C232.61,334.67 231.29,336.33 230.25,338.00 C229.21,339.67 228.56,341.00 227.50,343.00 C226.44,345.00 225.03,348.00 223.90,350.00 C222.78,352.00 221.69,353.12 220.75,355.00 C219.81,356.88 217.94,359.38 218.25,361.25 C218.56,363.12 220.93,364.58 222.60,366.25 C224.27,367.92 226.58,369.38 228.25,371.25 C229.92,373.12 231.14,375.21 232.60,377.50 C234.06,379.79 235.53,382.54 237.00,385.00 C238.47,387.46 240.67,391.04 241.40,392.25 L248.60,392.25 C249.27,391.04 251.20,387.46 252.60,385.00 C254.00,382.54 255.53,379.79 257.00,377.50 C258.47,375.21 259.73,373.12 261.40,371.25 C263.07,369.38 265.27,367.92 267.00,366.25 C268.73,364.58 271.43,363.12 271.75,361.25 C272.07,359.38 269.90,356.88 268.90,355.00 C267.90,353.12 266.88,352.00 265.75,350.00 C264.62,348.00 263.12,345.00 262.10,343.00 C261.08,341.00 260.53,339.67 259.60,338.00 C258.67,336.33 257.53,334.67 256.50,333.00 C255.47,331.33 254.33,329.46 253.40,328.00 C252.47,326.54 251.47,325.50 250.90,324.25 C250.33,323.00 250.17,321.96 250.00,320.50 C249.83,319.04 249.97,317.17 249.90,315.50 C249.83,313.83 249.79,311.96 249.60,310.50 C249.41,309.04 249.06,307.90 248.75,306.75 C248.44,305.60 247.92,304.12 247.75,303.60 Z" fill="#cf887a" stroke="#b5173a" stroke-width="1.1" stroke-linejoin="round"/>
<path d="M302.00,274.00 C302.00,275.00 301.86,277.80 302.00,280.00 C302.14,282.20 302.58,284.60 302.85,287.20 C303.12,289.80 303.60,293.20 303.60,295.60 C303.60,298.00 303.25,299.40 302.85,301.60 C302.45,303.80 301.68,306.57 301.20,308.80 C300.72,311.03 300.53,312.77 300.00,315.00 C299.47,317.23 298.67,319.80 298.00,322.20 C297.33,324.60 296.73,327.00 296.00,329.40 C295.27,331.80 294.47,334.20 293.60,336.60 C292.73,339.00 291.90,341.40 290.80,343.80 C289.70,346.20 288.23,348.80 287.00,351.00 C285.77,353.20 284.40,354.70 283.40,357.00 C282.40,359.30 280.96,362.63 281.00,364.80 C281.04,366.97 282.43,368.17 283.65,370.00 C284.87,371.83 286.86,373.88 288.30,375.80 C289.74,377.72 291.22,379.58 292.30,381.50 C293.38,383.42 294.07,385.47 294.80,387.30 C295.53,389.13 296.38,391.63 296.70,392.50 L311.30,392.50 C311.40,391.63 311.32,389.13 311.90,387.30 C312.48,385.47 313.55,383.42 314.80,381.50 C316.05,379.58 317.80,377.72 319.40,375.80 C321.00,373.88 323.18,371.83 324.40,370.00 C325.62,368.17 326.83,366.97 326.70,364.80 C326.57,362.63 324.72,359.30 323.60,357.00 C322.48,354.70 321.20,353.20 320.00,351.00 C318.80,348.80 317.40,346.20 316.40,343.80 C315.40,341.40 314.83,339.00 314.00,336.60 C313.17,334.20 312.20,331.80 311.40,329.40 C310.60,327.00 309.87,324.60 309.20,322.20 C308.53,319.80 307.80,317.23 307.40,315.00 C307.00,312.77 307.10,311.03 306.80,308.80 C306.50,306.57 305.93,303.80 305.60,301.60 C305.27,299.40 304.86,298.00 304.80,295.60 C304.74,293.20 305.07,289.80 305.25,287.20 C305.43,284.60 305.73,282.20 305.85,280.00 C305.98,277.80 305.98,275.00 306.00,274.00 Z" fill="#8e96bb" stroke="#4762a0" stroke-width="1.1" stroke-linejoin="round"/>
<text class="n" x="261" y="282.1" font-size="7.5" textLength="27" lengthAdjust="spacingAndGlyphs" fill="#222">p=0.299</text>
<text class="n" x="245" y="409" font-size="7.5" text-anchor="middle" fill="#222">No</text>
<text class="n" x="304" y="409" font-size="7.5" text-anchor="middle" fill="#222">Yes</text>
<text x="355" y="262" font-size="11" font-weight="bold" fill="#000">D</text>
<line x1="382" y1="268.7" x2="382" y2="399.1" stroke="#222" stroke-width="1.3"/>
<line x1="379.5" y1="392.50" x2="382" y2="392.50" stroke="#222" stroke-width="0.9"/>
<text class="n" x="376.3" y="395.15" font-size="7.5" text-anchor="end" fill="#222">0</text>
<line x1="379.5" y1="372.80" x2="382" y2="372.80" stroke="#222" stroke-width="0.9"/>
<text class="n" x="376.3" y="375.45" font-size="7.5" text-anchor="end" fill="#222">2</text>
<line x1="379.5" y1="353.10" x2="382" y2="353.10" stroke="#222" stroke-width="0.9"/>
<text class="n" x="376.3" y="355.75" font-size="7.5" text-anchor="end" fill="#222">4</text>
<line x1="379.5" y1="333.40" x2="382" y2="333.40" stroke="#222" stroke-width="0.9"/>
<text class="n" x="376.3" y="336.05" font-size="7.5" text-anchor="end" fill="#222">6</text>
<line x1="379.5" y1="313.70" x2="382" y2="313.70" stroke="#222" stroke-width="0.9"/>
<text class="n" x="376.3" y="316.35" font-size="7.5" text-anchor="end" fill="#222">8</text>
<line x1="379.5" y1="294.00" x2="382" y2="294.00" stroke="#222" stroke-width="0.9"/>
<text class="n" x="376.3" y="296.65" font-size="7.5" text-anchor="end" fill="#222">10</text>
<line x1="379.5" y1="274.30" x2="382" y2="274.30" stroke="#222" stroke-width="0.9"/>
<text class="n" x="376.3" y="276.95" font-size="7.5" text-anchor="end" fill="#222">12</text>
<line x1="381.4" y1="398.5" x2="512" y2="398.5" stroke="#222" stroke-width="1.2"/>
<text class="c" x="0" y="0" transform="translate(363.1,332.6) rotate(-90)" font-size="9.2" text-anchor="middle" textLength="72" lengthAdjust="spacingAndGlyphs" fill="#222">Number of mutated genes</text>
<path d="M416.30,304.00 C416.13,305.25 415.90,308.57 415.30,311.50 C414.70,314.43 413.30,318.68 412.70,321.60 C412.10,324.52 412.12,326.85 411.70,329.00 C411.28,331.15 410.92,332.87 410.20,334.50 C409.48,336.13 408.47,337.35 407.40,338.80 C406.33,340.25 405.23,341.52 403.80,343.20 C402.37,344.88 400.27,346.93 398.80,348.90 C397.33,350.87 396.30,352.83 395.00,355.00 C393.70,357.17 391.10,359.82 391.00,361.90 C390.90,363.98 392.80,365.32 394.40,367.50 C396.00,369.68 398.62,372.50 400.60,375.00 C402.58,377.50 404.58,380.42 406.25,382.50 C407.92,384.58 409.24,385.87 410.60,387.50 C411.96,389.13 413.77,391.50 414.40,392.30 L421.25,392.30 C421.88,391.50 423.64,389.13 425.00,387.50 C426.36,385.87 427.73,384.58 429.40,382.50 C431.07,380.42 433.02,377.50 435.00,375.00 C436.98,372.50 439.68,369.68 441.25,367.50 C442.82,365.32 444.51,363.98 444.40,361.90 C444.29,359.82 441.97,357.17 440.60,355.00 C439.23,352.83 437.77,350.87 436.20,348.90 C434.63,346.93 432.63,344.88 431.20,343.20 C429.77,341.52 428.62,340.25 427.60,338.80 C426.58,337.35 425.80,336.13 425.10,334.50 C424.40,332.87 423.88,331.15 423.40,329.00 C422.92,326.85 422.78,324.52 422.20,321.60 C421.62,318.68 420.50,314.43 419.90,311.50 C419.30,308.57 418.82,305.25 418.60,304.00 Z" fill="#cf887a" stroke="#b5173a" stroke-width="1.1" stroke-linejoin="round"/>
<path d="M470.60,323.50 C470.29,324.17 469.31,325.58 468.75,327.50 C468.19,329.42 467.71,332.50 467.25,335.00 C466.79,337.50 466.38,340.21 466.00,342.50 C465.62,344.79 465.68,347.08 465.00,348.75 C464.32,350.42 463.25,351.04 461.90,352.50 C460.55,353.96 458.42,355.83 456.90,357.50 C455.38,359.17 453.73,360.83 452.75,362.50 C451.77,364.17 450.52,365.62 451.00,367.50 C451.48,369.38 453.68,371.88 455.60,373.75 C457.52,375.62 460.52,377.19 462.50,378.75 C464.48,380.31 466.50,381.85 467.50,383.10 C468.50,384.35 468.29,384.73 468.50,386.25 C468.71,387.77 468.71,391.25 468.75,392.25 L484.75,392.25 C484.75,391.25 484.61,387.77 484.75,386.25 C484.89,384.73 484.52,384.35 485.60,383.10 C486.68,381.85 489.17,380.31 491.25,378.75 C493.33,377.19 496.27,375.62 498.10,373.75 C499.93,371.88 501.93,369.38 502.25,367.50 C502.57,365.62 501.11,364.17 500.00,362.50 C498.89,360.83 497.17,359.17 495.60,357.50 C494.03,355.83 491.85,353.96 490.60,352.50 C489.35,351.04 488.68,350.42 488.10,348.75 C487.52,347.08 487.45,344.79 487.10,342.50 C486.75,340.21 486.45,337.50 486.00,335.00 C485.55,332.50 484.98,329.42 484.40,327.50 C483.82,325.58 482.82,324.17 482.50,323.50 Z" fill="#8e96bb" stroke="#4762a0" stroke-width="1.1" stroke-linejoin="round"/>
<text class="n" x="433.3" y="282.1" font-size="7.5" textLength="28" lengthAdjust="spacingAndGlyphs" fill="#222">p=0.359</text>
<text class="n" x="417.5" y="409" font-size="7.5" text-anchor="middle" fill="#222">No</text>
<text class="n" x="476.5" y="409" font-size="7.5" text-anchor="middle" fill="#222">Yes</text>
<rect x="0.5" y="0.5" width="519" height="416" fill="none" stroke="#000" stroke-width="1"/>
</svg>
</body></html>
